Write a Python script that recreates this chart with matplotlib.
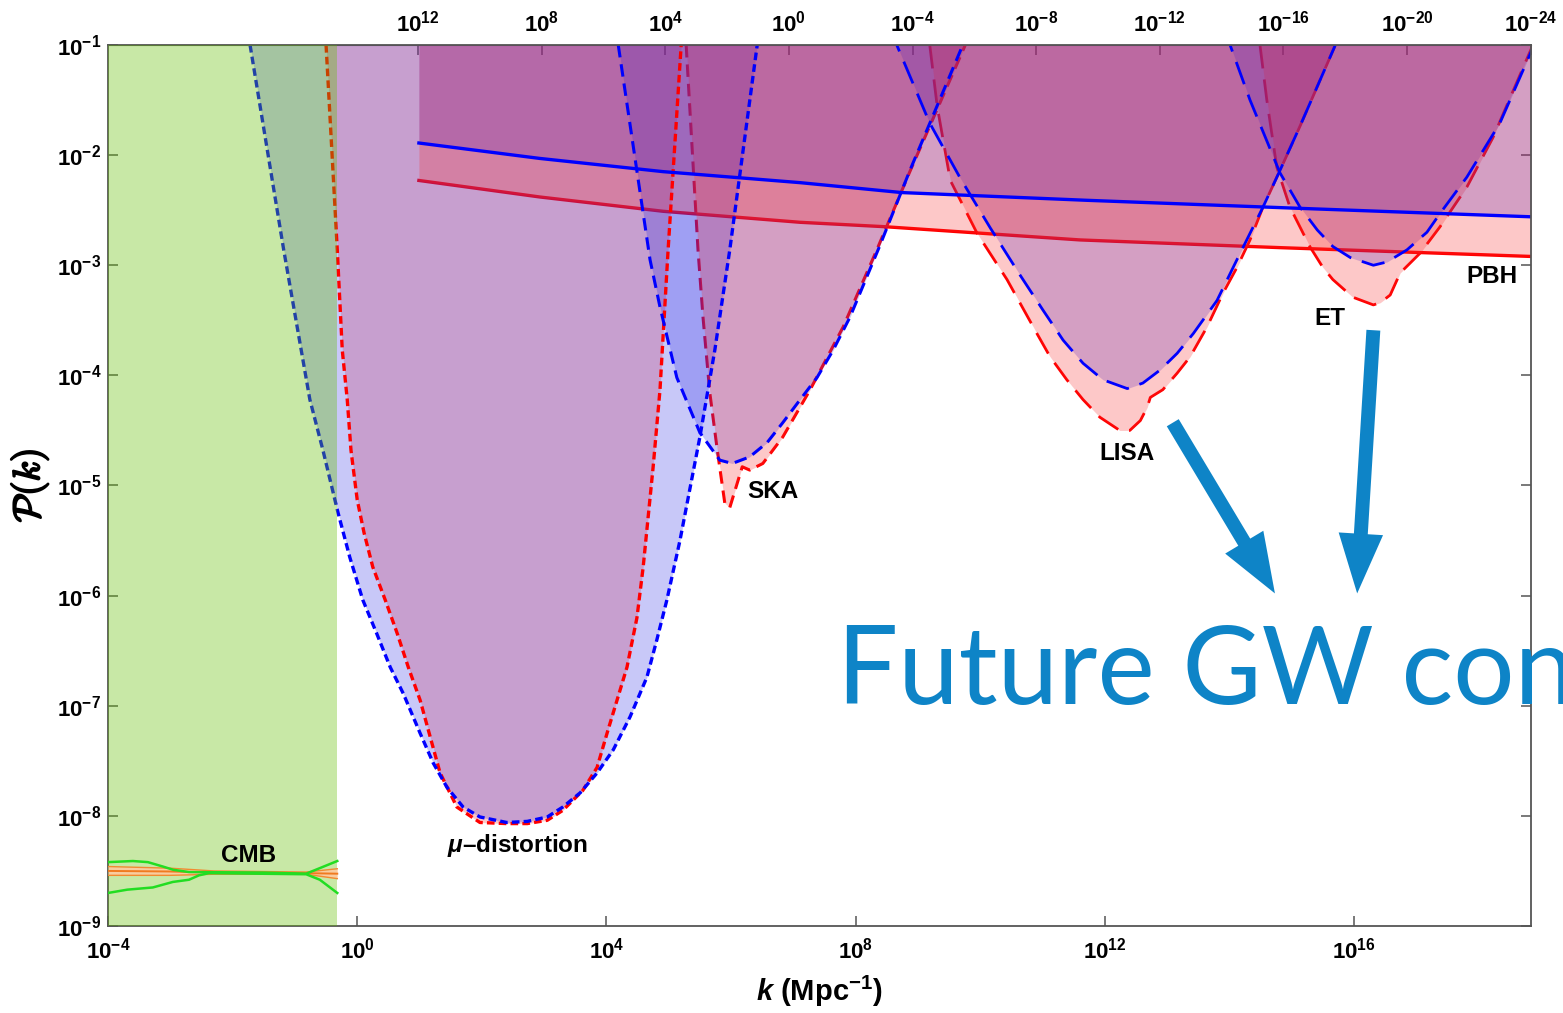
import numpy as np
import matplotlib
matplotlib.use("Agg")
import matplotlib.pyplot as plt
import matplotlib.patheffects as pe
from matplotlib.ticker import FixedLocator, FuncFormatter, NullLocator


# log10 k (Mpc^-1) and log10 P(k)
MU_BLUE_LOGK = [-1.72, -1.18, -0.76, -0.55, -0.32, -0.12, 0.09, 0.31, 0.53, 0.74,
                1.01, 1.22, 1.44, 1.70, 1.97, 2.40, 2.73, 3.05, 3.30, 3.58,
                3.85, 4.11, 4.38, 4.65, 4.81, 4.97, 5.18, 5.50, 5.74, 5.98, 6.42]
MU_BLUE_LOGP = [-1.00, -2.86, -4.22, -4.68, -5.22, -5.65, -6.04, -6.34, -6.65, -6.89,
                -7.25, -7.52, -7.74, -7.92, -8.01, -8.06, -8.05, -8.01, -7.92, -7.79,
                -7.61, -7.40, -7.10, -6.74, -6.40, -6.04, -5.50, -4.56, -3.77, -2.86, -1.00]
MU_RED_LOGK = [-0.50, -0.32, -0.24, -0.16, -0.10, 0.00, 0.11, 0.25, 0.45, 0.64,
               0.82, 1.01, 1.17, 1.33, 1.60, 1.97, 2.40, 2.73, 3.05, 3.30,
               3.62, 3.85, 4.01, 4.17, 4.33, 4.49, 4.59, 4.75, 4.86, 4.99, 5.20]
MU_RED_LOGP = [-1.00, -2.86, -3.77, -4.22, -4.68, -5.13, -5.43, -5.74, -6.04, -6.34,
               -6.65, -6.95, -7.28, -7.61, -7.92, -8.06, -8.07, -8.07, -8.04, -7.95,
               -7.77, -7.56, -7.25, -6.95, -6.65, -6.20, -5.74, -4.83, -4.13, -2.86, -1.00]

SKA_BLUE_LOGK = [4.19, 4.70, 4.86, 5.13, 5.50, 5.82, 6.02, 6.30, 6.58, 6.83,
                 7.11, 7.38, 7.64, 7.91, 8.39, 8.87, 9.72]
SKA_BLUE_LOGP = [-1.00, -2.95, -3.38, -4.02, -4.52, -4.77, -4.80, -4.74, -4.61, -4.43,
                 -4.22, -4.02, -3.77, -3.47, -2.82, -2.14, -1.00]
SKA_RED_LOGK = [5.28, 5.47, 5.55, 5.66, 5.78, 5.90, 5.98, 6.18, 6.30, 6.51,
                6.83, 7.27, 7.80, 8.34, 8.87, 9.76]
SKA_RED_LOGP = [-1.00, -2.86, -3.47, -4.16, -4.68, -5.16, -5.20, -4.83, -4.86, -4.80,
                -4.56, -4.13, -3.56, -2.86, -2.15, -1.00]

LISA_BLUE_LOGK = [8.66, 9.19, 9.68, 10.16, 10.64, 11.01, 11.33, 11.65, 11.97, 12.36,
                  12.61, 12.89, 13.16, 13.42, 13.80, 14.12, 14.54, 14.81, 15.13, 15.70]
LISA_BLUE_LOGP = [-1.00, -1.71, -2.21, -2.66, -3.09, -3.41, -3.68, -3.89, -4.04, -4.12,
                  -4.07, -3.95, -3.80, -3.62, -3.32, -2.95, -2.47, -2.14, -1.74, -1.00]
LISA_RED_LOGK = [9.19, 9.31, 9.52, 9.95, 10.43, 10.91, 11.12, 11.39, 11.65, 11.92,
                 12.24, 12.40, 12.57, 12.68, 12.73, 12.93, 13.16, 13.37, 13.64, 13.90,
                 14.12, 14.33, 14.54, 14.81, 15.13, 15.70]
LISA_RED_LOGP = [-1.00, -1.56, -2.23, -2.71, -3.13, -3.62, -3.83, -4.04, -4.22, -4.38,
                 -4.50, -4.50, -4.41, -4.29, -4.20, -4.13, -3.98, -3.83, -3.56, -3.25,
                 -3.02, -2.77, -2.47, -2.14, -1.74, -1.00]

ET_BLUE_LOGK = [14.01, 14.33, 14.81, 15.13, 15.41, 15.66, 15.94, 16.31, 16.53, 16.85,
                17.17, 17.38, 17.81, 18.34, 18.89]
ET_BLUE_LOGP = [-1.00, -1.50, -2.16, -2.47, -2.68, -2.83, -2.93, -3.00, -2.97, -2.86,
                -2.70, -2.53, -2.20, -1.71, -1.00]
ET_RED_LOGK = [14.49, 14.60, 14.76, 14.97, 15.29, 15.50, 15.66, 15.98, 16.31, 16.42,
               16.58, 16.74, 17.06, 17.38, 17.81, 18.23, 18.87]
ET_RED_LOGP = [-1.00, -1.50, -2.11, -2.47, -2.83, -3.02, -3.13, -3.29, -3.36, -3.34,
               -3.27, -3.07, -2.89, -2.65, -2.29, -1.84, -1.00]

PBH_BLUE_LOGK = [0.99, 2.93, 4.91, 7.11, 8.74, 11.70, 14.97, 18.84]
PBH_BLUE_LOGP = [-1.89, -2.03, -2.15, -2.25, -2.34, -2.41, -2.48, -2.56]
PBH_RED_LOGK = [0.99, 2.93, 4.91, 7.11, 8.47, 11.60, 14.81, 18.84]
PBH_RED_LOGP = [-2.23, -2.38, -2.51, -2.61, -2.65, -2.77, -2.84, -2.92]

# CMB measurements (large scales)
CMB_LOGK_RANGE = (-4.0, -0.32)
CMB_BAND_LOGK = [-4.0, -3.0, -2.3, -0.82, -0.32]
CMB_BAND_UPPER = [-8.46, -8.475, -8.50, -8.51, -8.48]
CMB_BAND_LOWER = [-8.54, -8.54, -8.53, -8.53, -8.57]
CMB_CENTRE = [-8.50, -8.505, -8.515, -8.52, -8.525]
GREEN_UPPER_LOGK = [-4.0, -3.6, -3.36, -3.12, -2.95, -2.70, -1.5, -0.82, -0.32]
GREEN_UPPER_LOGP = [-8.42, -8.41, -8.42, -8.46, -8.49, -8.51, -8.515, -8.525, -8.41]
GREEN_LOWER_LOGK = [-4.0, -3.69, -3.28, -2.96, -2.70, -2.54, -2.38, -0.82, -0.60, -0.32]
GREEN_LOWER_LOGP = [-8.70, -8.67, -8.65, -8.60, -8.58, -8.54, -8.52, -8.53, -8.58, -8.70]

# labels: (text, log k, log P)
LABELS = [
    ("CMB", -1.75, -8.36),
    (r"$\mu$–distortion", 2.58, -8.27),
    ("SKA", 6.67, -5.05),
    ("LISA", 12.36, -4.71),
    ("ET", 15.61, -3.48),
    ("PBH", 18.21, -3.10),
]

X_TICKS = [1e-4, 1e0, 1e4, 1e8, 1e12, 1e16]
Y_TICKS = [1e-9, 1e-8, 1e-7, 1e-6, 1e-5, 1e-4, 1e-3, 1e-2, 1e-1]
MASS_TICKS = [1e12, 1e8, 1e4, 1e0, 1e-4, 1e-8, 1e-12, 1e-16, 1e-20, 1e-24]
MASS_SLOPE = 0.496   # log k = offset - slope * log M
MASS_OFFSET = 6.93

# overlay arrows (log k, log P)
ARROW_TAILS = [(13.09, -4.43), (16.31, -3.59)]
ARROW_TIPS = [(14.73, -5.98), (16.05, -5.98)]

X_LIM = (1e-4, 10 ** 18.84)
Y_LIM = (1e-9, 1e-1)

RED = (1.0, 0.0, 0.0)
BLUE = (0.0, 0.0, 1.0)
RED_FILL = (0.98, 0.15, 0.15)
BLUE_FILL = (0.15, 0.15, 0.9)
FILL_ALPHA = 0.25
GW_BLUE = "#0e84c7"

plt.rcParams.update({
    "font.family": ["Liberation Sans", "DejaVu Sans"],
    "font.weight": "bold",
    "mathtext.fontset": "custom",
    "mathtext.rm": "Liberation Sans:bold",
    "mathtext.it": "Liberation Sans:italic:bold",
    "mathtext.bf": "Liberation Sans:bold",
    "lines.scale_dashes": False,
})


def to_lin(lk, lp):
    return 10.0 ** np.asarray(lk), 10.0 ** np.asarray(lp)


def draw_limit(ax, lk, lp, blue, dashes, lw, on_top=False):
    """Dashed/solid limit curve, shaded from the curve up to the top."""
    k, p = to_lin(lk, lp)
    # red lines mostly sit under the shading, blue lines over it
    ax.plot(k, p, color=BLUE if blue else RED, lw=lw, linestyle=dashes,
            zorder=2.5 if (blue or on_top) else 1, dash_capstyle="butt")
    ax.fill_between(k, p, 10.0, color=BLUE_FILL if blue else RED_FILL,
                    alpha=FILL_ALPHA, lw=0, zorder=2)


def k_to_mass(k):
    with np.errstate(all="ignore"):
        return 10.0 ** ((MASS_OFFSET - np.log10(k)) / MASS_SLOPE)


def mass_to_k(m):
    with np.errstate(all="ignore"):
        return 10.0 ** (MASS_OFFSET - MASS_SLOPE * np.log10(m))


def power_label(v, pos):
    return r"$10^{%d}$" % int(round(np.log10(v)))


def main():
    fig = plt.figure(figsize=(15.63, 10.13), dpi=100)
    ax = fig.add_axes([108 / 1563, 87 / 1013, 1423 / 1563, 881 / 1013])
    ax.set_xscale("log")
    ax.set_yscale("log")
    ax.set_xlim(X_LIM)
    ax.set_ylim(Y_LIM)

    short = (0, (5.5, 3.0))
    medium = (0, (9.0, 5.0))
    long_red = (0, (17.0, 8.0))
    long_blue = (12.0, (17.0, 8.0))

    # mu-distortion
    draw_limit(ax, MU_RED_LOGK, MU_RED_LOGP, False, short, 2.4, on_top=True)
    draw_limit(ax, MU_BLUE_LOGK, MU_BLUE_LOGP, True, short, 2.4)
    # SKA, LISA, ET, PBH
    draw_limit(ax, SKA_BLUE_LOGK, SKA_BLUE_LOGP, True, medium, 2.2)
    draw_limit(ax, SKA_RED_LOGK, SKA_RED_LOGP, False, medium, 2.2)
    draw_limit(ax, LISA_BLUE_LOGK, LISA_BLUE_LOGP, True, long_blue, 2.0)
    draw_limit(ax, LISA_RED_LOGK, LISA_RED_LOGP, False, long_red, 2.0)
    draw_limit(ax, ET_BLUE_LOGK, ET_BLUE_LOGP, True, long_blue, 2.0)
    draw_limit(ax, ET_RED_LOGK, ET_RED_LOGP, False, long_red, 2.0)
    draw_limit(ax, PBH_BLUE_LOGK, PBH_BLUE_LOGP, True, "-", 2.4)
    draw_limit(ax, PBH_RED_LOGK, PBH_RED_LOGP, False, "-", 2.4)

    # CMB region
    ax.axvspan(10 ** CMB_LOGK_RANGE[0], 10 ** CMB_LOGK_RANGE[1],
               color=(0.39, 0.75, 0.0), alpha=0.35, lw=0, zorder=3)
    kb, up = to_lin(CMB_BAND_LOGK, CMB_BAND_UPPER)
    _, lo = to_lin(CMB_BAND_LOGK, CMB_BAND_LOWER)
    _, mid = to_lin(CMB_BAND_LOGK, CMB_CENTRE)
    ax.fill_between(kb, lo, up, color="#ffc9a0", alpha=0.9, lw=0, zorder=4)
    ax.plot(kb, up, color="#f28a30", lw=1.0, zorder=4)
    ax.plot(kb, lo, color="#f28a30", lw=1.0, zorder=4)
    ax.plot(kb, mid, color="#f07a20", lw=1.4, zorder=4)
    ax.plot(*to_lin(GREEN_UPPER_LOGK, GREEN_UPPER_LOGP), color="#22dd22", lw=1.8, zorder=5)
    ax.plot(*to_lin(GREEN_LOWER_LOGK, GREEN_LOWER_LOGP), color="#22dd22", lw=1.8, zorder=5)

    for text, lk, lp in LABELS:
        ax.text(10 ** lk, 10 ** lp, text, ha="center", va="center",
                fontsize=17.5, fontweight="bold", zorder=6)

    # axes styling
    for spine in ax.spines.values():
        spine.set_color("#555555")
        spine.set_linewidth(1.3)
    ax.xaxis.set_major_locator(FixedLocator(X_TICKS))
    ax.xaxis.set_minor_locator(NullLocator())
    ax.yaxis.set_major_locator(FixedLocator(Y_TICKS))
    ax.yaxis.set_minor_locator(NullLocator())
    ax.xaxis.set_major_formatter(FuncFormatter(power_label))
    ax.yaxis.set_major_formatter(FuncFormatter(power_label))
    ax.tick_params(which="both", direction="in", length=7, width=1.1,
                   color="#555555", labelsize=16, top=False, right=True)
    ax.tick_params(axis="x", pad=8)
    ax.tick_params(axis="y", pad=5)

    secax = ax.secondary_xaxis("top", functions=(k_to_mass, mass_to_k))
    secax.xaxis.set_major_locator(FixedLocator(MASS_TICKS))
    secax.xaxis.set_minor_locator(NullLocator())
    secax.xaxis.set_major_formatter(FuncFormatter(power_label))
    secax.tick_params(direction="in", length=7, width=1.1, color="#555555",
                      labelsize=16, pad=6)
    secax.spines["top"].set_color("#555555")

    ax.set_xlabel(r"$k$ (Mpc$^{-1}$)", fontsize=21, fontweight="bold", labelpad=8)
    ylab = ax.set_ylabel(r"$\mathcal{P}(k)$", fontsize=27, math_fontfamily="cm", labelpad=4)
    ylab.set_path_effects([pe.withStroke(linewidth=1.4, foreground="black")])

    # overlay: arrows and slide caption
    for (k0, p0), (k1, p1) in zip(ARROW_TAILS, ARROW_TIPS):
        ax.annotate("", xy=(10 ** k1, 10 ** p1), xytext=(10 ** k0, 10 ** p0),
                    annotation_clip=False, zorder=7,
                    arrowprops=dict(arrowstyle="simple,head_length=4.3,head_width=3.2,tail_width=1.0",
                                    mutation_scale=10, color=GW_BLUE, lw=0,
                                    shrinkA=0, shrinkB=0))
    fig.text(837 / 1563, (1013 - 704) / 1013, "Future GW constraints",
             fontsize=78, color=GW_BLUE, family="Lato", fontweight="normal",
             ha="left", va="baseline", zorder=10)

    fig.savefig("out.png", dpi=100)


if __name__ == "__main__":
    main()
